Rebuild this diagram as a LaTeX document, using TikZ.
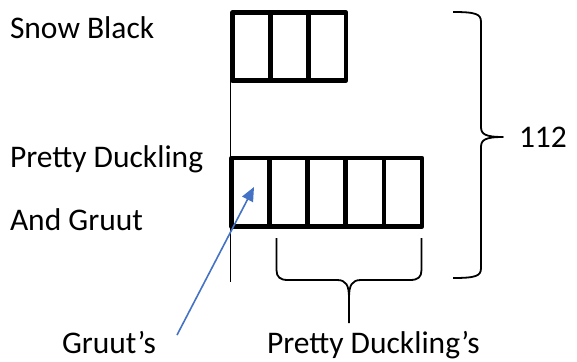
\documentclass[tikz,border=0pt]{standalone}
\usepackage{fontspec}
\setmainfont{Carlito}
\usetikzlibrary{arrows.meta}
\definecolor{pointer}{HTML}{4472C4}
\tikzset{
  cell/.style={draw=black, line width=4.8pt, line join=round, rectangle,
    inner sep=0pt, outer sep=0pt, minimum height=68pt},
  label/.style={anchor=base west, inner sep=0pt, outer sep=0pt,
    font=\fontsize{31.5}{37}\selectfont},
  thin/.style={draw=black, line width=1.8pt},
  bracestroke/.style={draw=black, line width=1.8pt, line join=round}
}
\begin{document}
\begin{tikzpicture}[x=1pt, y=-1pt]
\useasboundingbox (0,0) rectangle (577,361);

% row labels
\node[label] (snow) at (10,38) {Snow Black};
\node[label] (pretty) at (10,167) {Pretty Duckling};
\node[label] (gruut) at (10,230) {And Gruut};

% common baseline
\coordinate (axisTop) at (230.5,12);
\coordinate (axisBot) at (230.5,282);
\draw[thin] (axisTop) -- (axisBot);

% Snow Black: three cells
\foreach \i in {0,1,2} {
  \node[cell, minimum width=37.8pt] (s\i) at ({251.4+37.8*\i},46.5) {};
}

% Pretty Duckling and Gruut: five cells
\foreach \i in {0,...,4} {
  \node[cell, minimum width=38.06pt, minimum height=68.5pt] (p\i) at ({250.73+38.06*\i},192.25) {};
}

% right brace, total
\draw[bracestroke] (453,12) .. controls (476,12) and (481,14) .. (481,22)
  -- (481,127) .. controls (481,134) and (485,137) .. (503,137)
  .. controls (485,137) and (481,140) .. (481,147)
  -- (481,268) .. controls (481,276) and (476,278) .. (453,278);
\node[label] (total) at (519,147) {112};

% bottom brace under Pretty Duckling's cells
\draw[bracestroke] (276.5,238) -- (276.5,270) .. controls (276.5,277) and (280,280) .. (288,280)
  -- (337,280) .. controls (346,280) and (349,285) .. (349,298) -- (349,323);
\draw[bracestroke] (349,298) .. controls (349,285) and (352,280) .. (361,280)
  -- (410,280) .. controls (418,280) and (421.5,277) .. (421.5,270) -- (421.5,238);

% captions
\node[label] (gruutcap) at (62,353) {Gruut’s};
\node[label] (prettycap) at (267,353) {Pretty Duckling’s};

% pointer into Gruut's cell
\coordinate (tail) at (177,335);
\coordinate (tip) at (254,187);
\draw[pointer, line width=1.6pt, -{Triangle[length=14pt,width=12pt]}] (tail) -- (tip);
\end{tikzpicture}
\end{document}
